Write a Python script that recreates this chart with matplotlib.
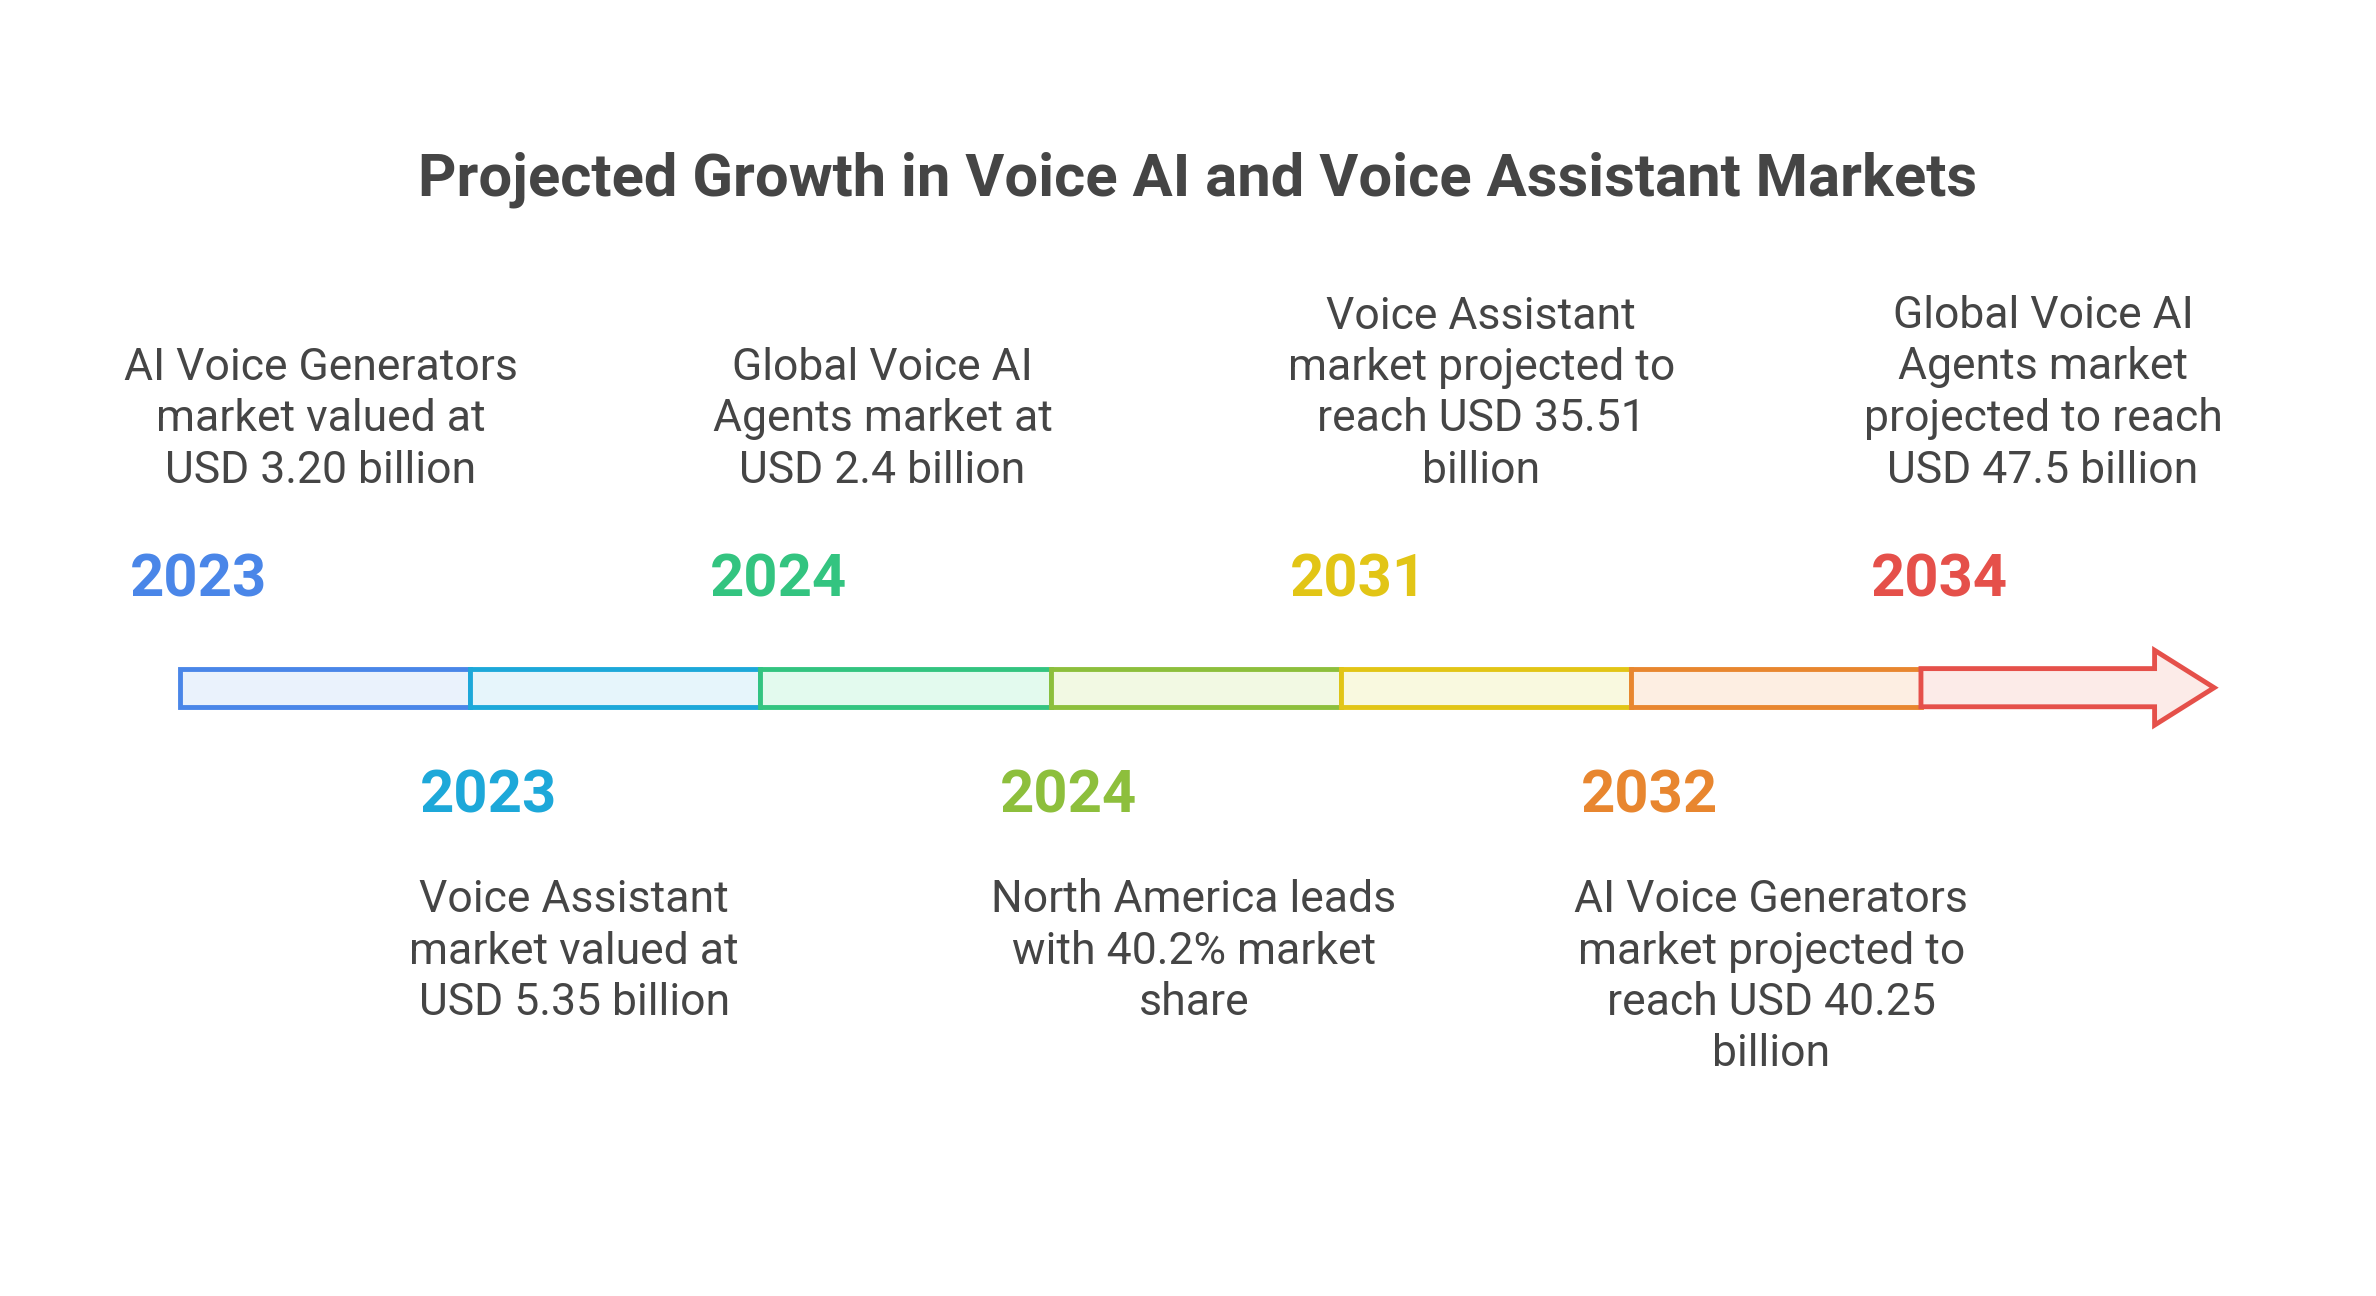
import matplotlib
matplotlib.use("Agg")
import matplotlib.pyplot as plt
from matplotlib.patches import Rectangle, Polygon

title = "Projected Growth in Voice AI and Voice Assistant Markets"
years = ["2023", "2023", "2024", "2024", "2031", "2032", "2034"]
labels = [
    "AI Voice Generators\nmarket valued at\nUSD 3.20 billion",
    "Voice Assistant\nmarket valued at\nUSD 5.35 billion",
    "Global Voice AI\nAgents market at\nUSD 2.4 billion",
    "North America leads\nwith 40.2% market\nshare",
    "Voice Assistant\nmarket projected to\nreach USD 35.51\nbillion",
    "AI Voice Generators\nmarket projected to\nreach USD 40.25\nbillion",
    "Global Voice AI\nAgents market\nprojected to reach\nUSD 47.5 billion",
]
colors = ["#4A86E8", "#1DA8D9", "#33C480", "#8DBF3C", "#E2C516", "#E8862F", "#E5504A"]
fills = ["#EAF2FC", "#E6F5FB", "#E3FAEE", "#F2F9E3", "#F9F9DF", "#FDEEE2", "#FCEBE8"]
label_dx = [92, 68, 80, 94, 92, 92, 80]

W, H = 1556, 849
fig = plt.figure(figsize=(23.76, 12.96), dpi=100)
ax = fig.add_axes([0, 0, 1, 1])
ax.set_xlim(0, W); ax.set_ylim(H, 0); ax.axis("off")
font = "Roboto"

ax.text(784, 118, title, ha="center", va="center", fontsize=43,
        fontweight="bold", color="#454545", family=font)

x0, seg, y0, y1 = 118, 190, 438, 463
for i, (c, f) in enumerate(zip(colors, fills)):
    xs = x0 + i * seg
    if i < 6:
        ax.add_patch(Rectangle((xs, y0), seg, y1 - y0, facecolor=f, edgecolor=c, lw=3.5, zorder=2))
    else:
        pts = [(xs, y0), (xs + 153, y0), (xs + 153, 426), (xs + 192, 450.5),
               (xs + 153, 475), (xs + 153, y1), (xs, y1)]
        ax.add_patch(Polygon(pts, closed=True, facecolor=f, edgecolor=c, lw=3.5, zorder=2))

    if i % 2 == 0:
        ax.text(xs - 33, 380, years[i], ha="left", va="center",
                fontsize=43, fontweight="bold", color=c, family=font)
        ax.text(xs + label_dx[i], 322, labels[i], ha="center", va="bottom", fontsize=32,
                color="#454545", family=font, linespacing=1.28)
    else:
        ax.text(xs - 33, 522, years[i], ha="left", va="center",
                fontsize=43, fontweight="bold", color=c, family=font)
        ax.text(xs + label_dx[i], 576, labels[i], ha="center", va="top", fontsize=32,
                color="#454545", family=font, linespacing=1.28)

fig.savefig("out.png", dpi=100, facecolor="white")
